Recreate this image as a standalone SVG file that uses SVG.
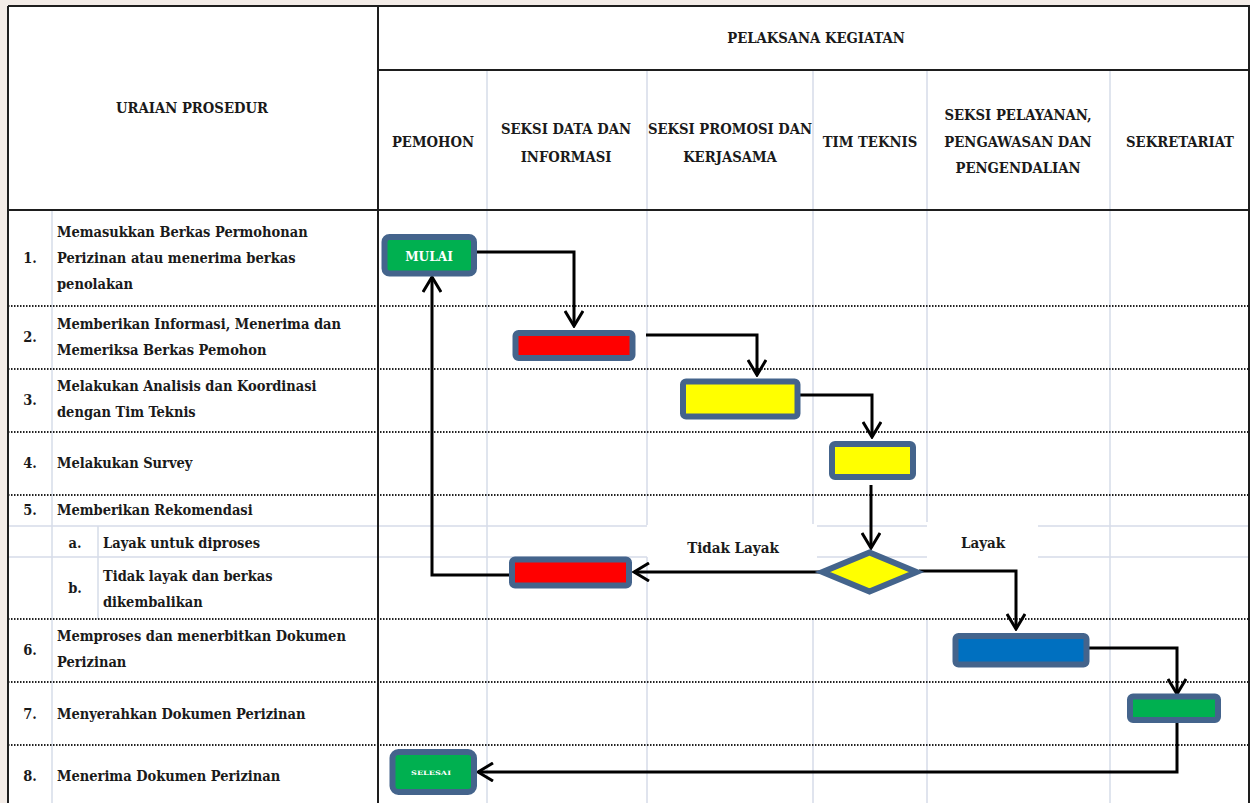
<svg xmlns="http://www.w3.org/2000/svg" width="1250" height="803" viewBox="0 0 1250 803">
<defs>
<style>
.t{font-family:"DejaVu Serif Condensed","DejaVu Serif",serif;font-weight:bold;fill:#1a1a1a}
.h{font-size:14.7px;text-anchor:middle}
.b{font-size:14.5px}
.n{font-size:14.5px;text-anchor:middle}
.lbl{font-size:15px;text-anchor:middle}
.grid{stroke:#d6dce9;stroke-width:1.5;fill:none}
.blk{stroke:#1e1e1e;stroke-width:2;fill:none}
.dot{stroke:#222;stroke-width:2;stroke-dasharray:1.5 1.5;fill:none}
.box{stroke:#44648c;stroke-width:6}
.con{stroke:#000;stroke-width:3;fill:none;stroke-linejoin:miter}
</style>
<marker id="ah" viewBox="0 0 20 20" refX="18" refY="10" markerWidth="20" markerHeight="20" markerUnits="userSpaceOnUse" orient="auto">
<path d="M3,1 L18,10 L3,19" fill="none" stroke="#000" stroke-width="3"/>
</marker>
</defs>
<rect width="1250" height="803" fill="#f3ece7"/>
<rect x="8" y="6" width="1242" height="797" fill="#fff"/>

<g id="grid">
<line class="grid" x1="52" y1="210" x2="52" y2="803"/>
<line class="grid" x1="98" y1="526" x2="98" y2="619"/>
<line class="grid" x1="487" y1="70" x2="487" y2="803"/>
<path class="grid" d="M647,70 V525 M647,557 V803"/>
<path class="grid" d="M813,70 V524 M813,619 V803"/>
<path class="grid" d="M927,70 V522 M927,619 V803"/>
<line class="grid" x1="1110" y1="70" x2="1110" y2="803"/>
<path class="grid" d="M8,526 H647 M817,526 H927 M1038,526 H1250"/>
<path class="grid" d="M8,557 H647 M817,557 H927 M1038,557 H1250"/>
<path class="dot" d="M8,306 H1250 M8,369 H1250 M8,432 H1250 M8,495 H1250 M8,619 H1250 M8,682 H1250 M8,745 H1250"/>
<path class="blk" d="M8,6 H1249 V803 M8,6 V803 M378,6 V803 M378,70 H1249 M8,210 H1249"/>
</g>

<g id="header">
<text class="t h" x="816" y="43">PELAKSANA KEGIATAN</text>
<text class="t h" x="192" y="113">URAIAN PROSEDUR</text>
<text class="t h" x="433" y="147">PEMOHON</text>
<text class="t h" x="566" y="134">SEKSI DATA DAN</text>
<text class="t h" x="566" y="162">INFORMASI</text>
<text class="t h" x="730" y="134">SEKSI PROMOSI DAN</text>
<text class="t h" x="730" y="162">KERJASAMA</text>
<text class="t h" x="870" y="147">TIM TEKNIS</text>
<text class="t h" x="1018" y="120">SEKSI PELAYANAN,</text>
<text class="t h" x="1018" y="147">PENGAWASAN DAN</text>
<text class="t h" x="1018" y="173">PENGENDALIAN</text>
<text class="t h" x="1180" y="147">SEKRETARIAT</text>
</g>

<g id="rows">
<text class="t n" x="30" y="263">1.</text>
<text class="t b" x="57" y="237">Memasukkan Berkas Permohonan</text>
<text class="t b" x="57" y="263">Perizinan atau menerima berkas</text>
<text class="t b" x="57" y="289">penolakan</text>
<text class="t n" x="30" y="342">2.</text>
<text class="t b" x="57" y="329">Memberikan Informasi, Menerima dan</text>
<text class="t b" x="57" y="355">Memeriksa Berkas Pemohon</text>
<text class="t n" x="30" y="405">3.</text>
<text class="t b" x="57" y="391">Melakukan Analisis dan Koordinasi</text>
<text class="t b" x="57" y="417">dengan Tim Teknis</text>
<text class="t n" x="30" y="468">4.</text>
<text class="t b" x="57" y="468">Melakukan Survey</text>
<text class="t n" x="30" y="515">5.</text>
<text class="t b" x="57" y="515">Memberikan Rekomendasi</text>
<text class="t n" x="75" y="548">a.</text>
<text class="t b" x="103" y="548">Layak untuk diproses</text>
<text class="t n" x="75" y="593">b.</text>
<text class="t b" x="103" y="581">Tidak layak dan berkas</text>
<text class="t b" x="103" y="607">dikembalikan</text>
<text class="t n" x="30" y="655">6.</text>
<text class="t b" x="57" y="641">Memproses dan menerbitkan Dokumen</text>
<text class="t b" x="57" y="667">Perizinan</text>
<text class="t n" x="30" y="719">7.</text>
<text class="t b" x="57" y="719">Menyerahkan Dokumen Perizinan</text>
<text class="t n" x="30" y="781">8.</text>
<text class="t b" x="57" y="781">Menerima Dokumen Perizinan</text>
</g>

<g id="connectors">
<path class="con" d="M477,252 H574 V326" marker-end="url(#ah)"/>
<path class="con" d="M646,335 H757 V375" marker-end="url(#ah)"/>
<path class="con" d="M800,395 H872 V437" marker-end="url(#ah)"/>
<path class="con" d="M871,485 V548" marker-end="url(#ah)"/>
<path class="con" d="M820,572 H634" marker-end="url(#ah)"/>
<path class="con" d="M509,575 H432 V277" marker-end="url(#ah)"/>
<path class="con" d="M919,571 H1016 V629" marker-end="url(#ah)"/>
<path class="con" d="M1089,648 H1177 V694" marker-end="url(#ah)"/>
<path class="con" d="M1177,722 V772 H478" marker-end="url(#ah)"/>
<text class="t lbl" x="733" y="553">Tidak Layak</text>
<text class="t lbl" x="983" y="548">Layak</text>
</g>

<g id="mulai">
<rect class="box" x="384.5" y="237" width="89.5" height="36.5" rx="5" fill="#00b050"/>
<text x="429" y="261" font-family="DejaVu Serif Condensed,DejaVu Serif,serif" font-weight="bold" font-size="13.5" fill="#fff" text-anchor="middle">MULAI</text>
</g>
<g id="seksi-data-1"><rect class="box" x="515.5" y="333" width="117" height="25" rx="3" fill="#ff0000"/></g>
<g id="seksi-promosi"><rect class="box" x="683" y="381.5" width="114.5" height="35" rx="3" fill="#ffff00"/></g>
<g id="tim-teknis-survey"><rect class="box" x="832" y="444" width="81" height="33" rx="3" fill="#ffff00"/></g>
<g id="rekomendasi"><path class="box" d="M822.5,572 L869.5,552.5 L916.5,572 L869.5,591.5 Z" fill="#ffff00"/></g>
<g id="seksi-data-2"><rect class="box" x="512" y="559.5" width="117" height="26" rx="3" fill="#ff0000"/></g>
<g id="seksi-pelayanan"><rect class="box" x="955.5" y="636" width="131" height="28.5" rx="3" fill="#0070c0"/></g>
<g id="sekretariat"><rect class="box" x="1130" y="696.5" width="88" height="23.5" rx="3" fill="#00b050"/></g>
<g id="selesai">
<rect class="box" x="392.5" y="752" width="81.5" height="40" rx="6" fill="#00b050"/>
<text x="411" y="775" font-family="DejaVu Serif Condensed,DejaVu Serif,serif" font-weight="bold" font-size="6" fill="#fff" textLength="40" lengthAdjust="spacingAndGlyphs">SELESAI</text>
</g>
</svg>
